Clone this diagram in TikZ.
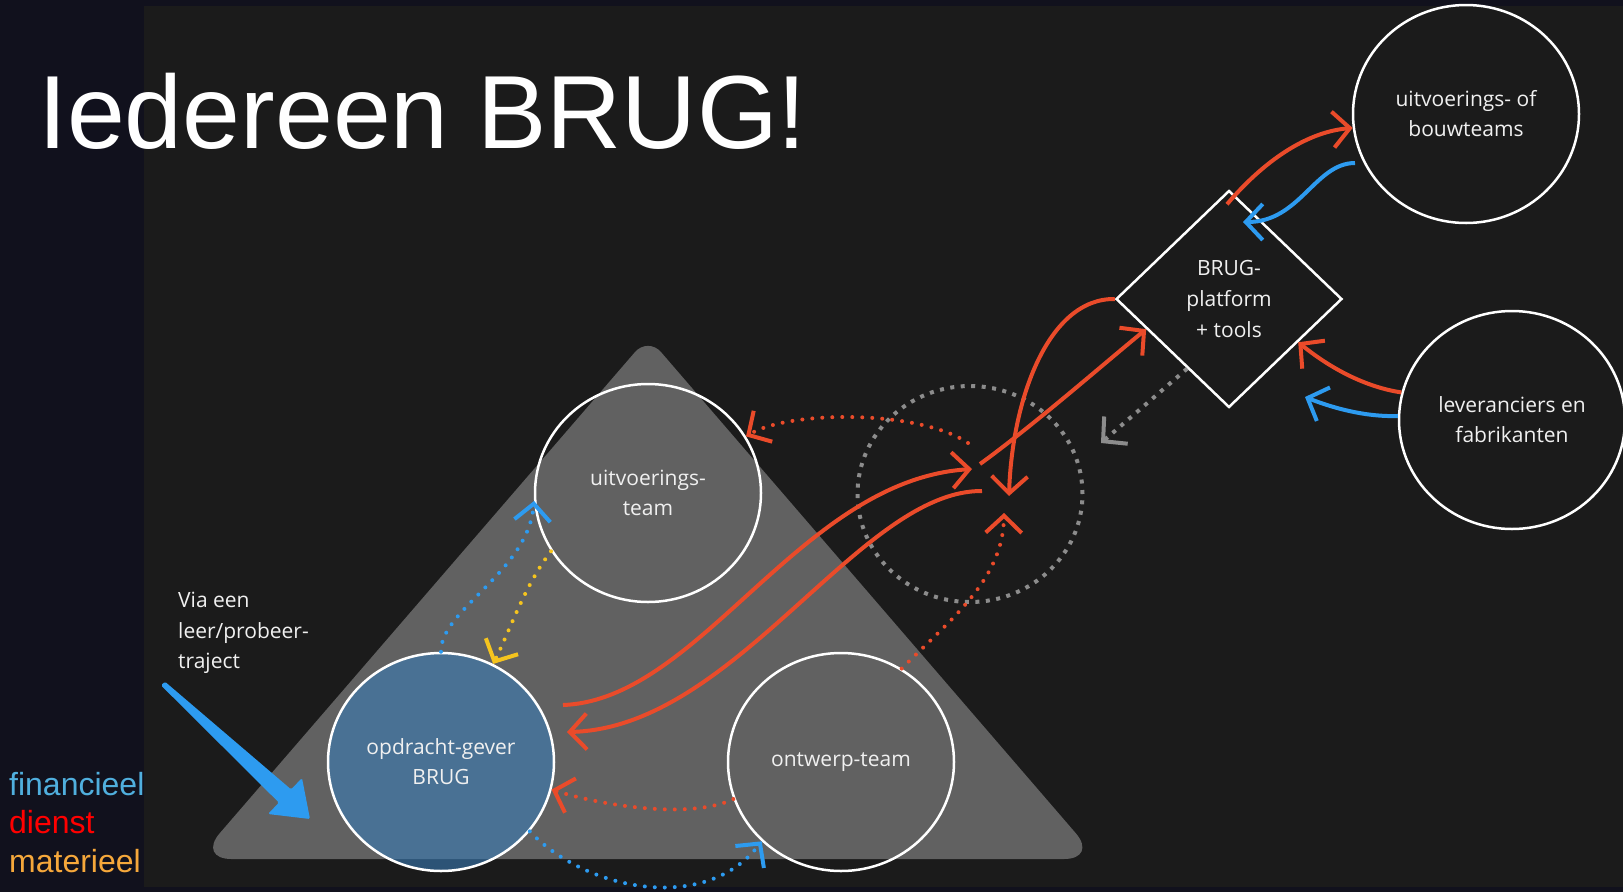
\documentclass[tikz,border=0pt]{standalone}
\usepackage{fontspec}
\setmainfont{Open Sans}
\newfontfamily\arialf{Liberation Sans}
\usetikzlibrary{shapes.geometric,arrows.meta}
\definecolor{bgdark}{RGB}{27,27,27}
\definecolor{navy}{RGB}{17,17,29}
\definecolor{trigrey}{RGB}{97,97,97}
\definecolor{cred}{RGB}{234,75,42}
\definecolor{cblue}{RGB}{45,155,240}
\definecolor{cyellow}{RGB}{245,196,30}
\definecolor{cgrey}{RGB}{140,140,140}
\definecolor{ogfill}{RGB}{57,125,185}
\definecolor{legblue}{RGB}{80,175,222}
\definecolor{legred}{RGB}{255,0,0}
\definecolor{legorange}{RGB}{246,168,59}
\definecolor{txt}{RGB}{240,240,240}
\tikzset{
  circ/.style={shape=ellipse, draw=white, line width=2.5pt, minimum width=226pt, minimum height=218pt, inner sep=0pt, align=center, text=txt, font=\fontsize{21}{30}\selectfont},
  dia/.style={shape=diamond, draw=white, line width=2.5pt, minimum width=226pt, minimum height=217pt, inner sep=0pt, align=center, text=txt, font=\fontsize{21}{31}\selectfont},
  hubst/.style={shape=ellipse, draw=cgrey, line width=4pt, dash pattern=on 4pt off 6.5pt, minimum width=225pt, minimum height=216pt, inner sep=0pt},
  conn/.style={line width=4pt, -{Straight Barb[length=17pt,width=36pt]}},
  redline/.style={conn, draw=cred},
  blueline/.style={conn, draw=cblue},
  yelline/.style={conn, draw=cyellow},
  greyline/.style={conn, draw=cgrey},
  dotline/.style={dash pattern=on 0pt off 10pt, line cap=round},
  sqdots/.style={dash pattern=on 4pt off 6.5pt},
  legend/.style={anchor=base west, inner sep=0pt, font=\arialf\fontsize{32}{38}\selectfont}
}
\begin{document}
\begin{tikzpicture}[x=1pt, y=-1pt]
\useasboundingbox (0,0) rectangle (1623,892);
% backgrounds
\fill[navy] (0,0) rectangle (1623,892);
\fill[bgdark] (144,6) rectangle (1623,887);
% triangle
\fill[trigrey] (648,859) [rounded corners=34pt] -- (197.5,859) [rounded corners=20pt] -- (648,337) [rounded corners=34pt] -- (1098,859) -- cycle;
% nodes
\node[circ] (ut) at (648,493) {uitvoerings-\\team};
\node[circ, fill=ogfill, fill opacity=0.58, text opacity=1] (og) at (441,762) {opdracht-gever\\BRUG};
\node[circ] (ot) at (841,762) {ontwerp-team};
\node[circ] (bt) at (1466,114) {uitvoerings- of\\bouwteams};
\node[circ] (lf) at (1512,420) {leveranciers en\\fabrikanten};
\node[dia] (pl) at (1229,299) {BRUG-\\platform\\+ tools};
\node[hubst] (hub) at (970,494) {};
% solid connectors
\draw[redline] ([shift={(-2,15)}]pl.north) .. controls (1262,163) and (1305,132) .. (bt.187);
\draw[blueline] ([shift={(-111,49)}]bt.center) .. controls (1315,163) and (1300,222) .. ([shift={(14,-77)}]pl.center);
\draw[redline] (pl.west) .. controls (1048,298) and (1012,400) .. ([shift={(39,2)}]hub.center);
\draw[redline] ([shift={(10,-30)}]hub.center) .. controls (1035,424) and (1100,367) .. (pl.200);
\draw[redline] ([shift={(122,-57)}]og.center) .. controls (700,700) and (800,480) .. ([shift={(2,-25)}]hub.center);
\draw[redline] ([shift={(12,-3)}]hub.center) .. controls (860,490) and (735,728) .. ([shift={(126,-30)}]og.center);
\draw[redline] (lf.166) .. controls (1365,387) and (1330,368) .. (pl.328);
\draw[blueline] (lf.178) .. controls (1365,417) and (1333,408) .. ([shift={(76,98)}]pl.center);
% dotted connectors
\draw[redline, dotline] ([shift={(-2,-51)}]hub.center) .. controls (920,410) and (790,410) .. (ut.30);
\draw[redline, dotline] (ot.57) .. controls (950,620) and (1003,580) .. ([shift={(34,19)}]hub.center);
\draw[redline, dotline] (ot.199) .. controls (690,820) and (600,805) .. (og.346);
\draw[blueline, dotline] (og.322) .. controls (585,890) and (705,915) .. (ot.225);
\draw[blueline, dotline] (og.north) .. controls (440,610) and (528,572) .. (ut.184);
\draw[yelline, dotline] (ut.211) .. controls (525,585) and (510,630) .. (og.62);
\draw[greyline, sqdots] (pl.239) -- ([shift={(131,-51)}]hub.center);
% big blue arrow
\fill[cblue, rounded corners=1.5pt] (161,685.3) -- (278.9,802.6) -- (268,814) -- (310,819) -- (302,778) -- (291.1,789.4) -- (165,681.7) -- cycle;
% texts
\node[anchor=base west, inner sep=0pt, text=white, font=\arialf\fontsize{104}{110}\selectfont] (title) at (38,148) {Iedereen BRUG!};
\node[anchor=west, align=left, inner sep=0pt, text=txt, font=\fontsize{21}{30.5}\selectfont] (via) at (178,633) {Via een\\leer/probeer-\\traject};
\node[legend, text=legblue] (lfin) at (9,795) {financieel};
\node[legend, text=legred] (ldie) at (9,833) {dienst};
\node[legend, text=legorange] (lmat) at (9,872) {materieel};
\end{tikzpicture}
\end{document}
